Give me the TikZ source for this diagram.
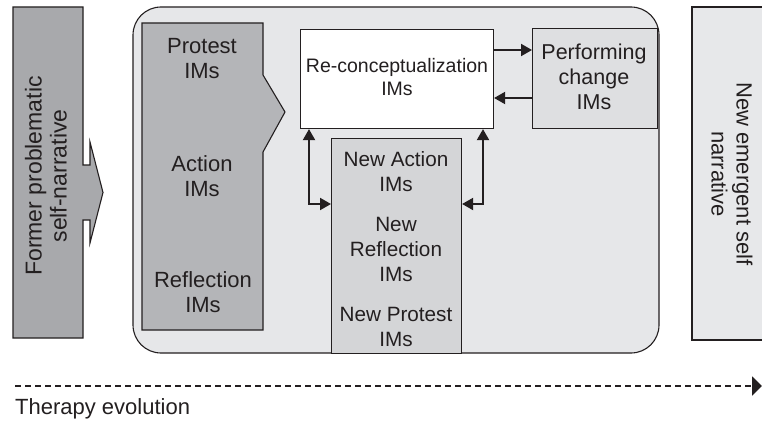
\documentclass[tikz,border=0pt]{standalone}
\usepackage{fontspec}
\setmainfont{Liberation Sans}
\usetikzlibrary{arrows.meta}

\definecolor{inkline}{RGB}{35,31,32}
\definecolor{formerfill}{RGB}{168,169,172}
\definecolor{panelfill}{RGB}{230,231,233}
\definecolor{imsfill}{RGB}{180,181,184}
\definecolor{newfill}{RGB}{212,213,215}
\definecolor{perffill}{RGB}{222,223,225}
\definecolor{emergentfill}{RGB}{231,232,234}

\tikzset{
  outline/.style={draw=inkline, line width=1.1pt},
  lbl/.style={align=center, inner sep=0pt, text=inkline},
  boxnode/.style={outline, rectangle, inner sep=0pt, anchor=north west},
  link/.style={draw=inkline, line width=2pt, -{Triangle[length=11pt,width=12pt]}},
  twoway/.style={draw=inkline, line width=2pt,
    {Triangle[length=11pt,width=12pt]}-{Triangle[length=11pt,width=12pt]}},
}

\begin{document}
\begin{tikzpicture}[x=1pt, y=-1pt]
  \clip (0,0) rectangle (762,425);
  \fill[white] (0,0) rectangle (762,425);

  % former self-narrative with its arrow
  \path[outline, fill=formerfill]
    (13,7) -- (83,7) -- (83,165) -- (90,165) -- (90,142) -- (103,192.5)
    -- (90,243) -- (90,220) -- (83,220) -- (83,338) -- (13,338) -- cycle;
  \node[lbl, rotate=90, font=\fontsize{23}{25}\selectfont] (former) at (46,176)
    {Former problematic\\self-narrative};

  % central panel
  \path[outline, fill=panelfill, rounded corners=28pt] (133,7) rectangle (659,353);

  % initial innovative moments
  \path[outline, fill=imsfill]
    (142,23) -- (263,23) -- (263,75) -- (285,112) -- (263,152)
    -- (263,330) -- (142,330) -- cycle;
  \node[lbl, font=\fontsize{22}{25}\selectfont] (protest) at (202,59) {Protest\\IMs};
  \node[lbl, font=\fontsize{22}{25}\selectfont] (action) at (202,176) {Action\\IMs};
  \node[lbl, font=\fontsize{22}{25}\selectfont] (reflection) at (203,292.5) {Reflection\\IMs};

  % re-conceptualization and performing change
  \node[boxnode, fill=white, minimum width=193pt, minimum height=99pt]
    (reconc) at (300,29) {};
  \node[lbl, font=\fontsize{19.5}{23}\selectfont] (reconctext) at (397,77.5)
    {Re-conceptualization\\IMs};

  \node[boxnode, fill=perffill, minimum width=125pt, minimum height=100pt]
    (perf) at (532,28) {};
  \node[lbl, font=\fontsize{21.5}{25}\selectfont] (perftext) at (594,76.5)
    {Performing\\change\\IMs};

  % new innovative moments
  \node[boxnode, fill=newfill, minimum width=130pt, minimum height=215pt]
    (newims) at (331,138) {};
  \node[lbl, font=\fontsize{20.7}{25}\selectfont] (newaction) at (396,172) {New Action\\IMs};
  \node[lbl, font=\fontsize{20.7}{25}\selectfont] (newreflection) at (396,249) {New\\Reflection\\IMs};
  \node[lbl, font=\fontsize{20.7}{25}\selectfont] (newprotest) at (396,327) {New Protest\\IMs};

  % connectors
  \draw[link] (reconc.east |- 0,50) -- (perf.west |- 0,50);
  \draw[link] (perf.west |- 0,98) -- (reconc.east |- 0,98);
  \draw[twoway] (reconc.south -| 309,0) |- (newims.west |- 0,204);
  \draw[twoway] (reconc.south -| 483,0) |- (newims.east |- 0,204);

  % new emergent self-narrative
  \path[outline, fill=emergentfill] (692,7) rectangle (775,340);
  \node[lbl, rotate=-90, font=\fontsize{22}{25}\selectfont] (emergent) at (732,174)
    {New emergent self\\narrative};

  % therapy timeline
  \coordinate (tstart) at (15,386);
  \coordinate (tend) at (762,386);
  \draw[draw=inkline, line width=2pt, dash pattern=on 6pt off 4pt,
    -{Triangle[length=10pt,width=19pt]}] (tstart) -- (tend);
  \node[anchor=west, inner sep=0pt, text=inkline,
    font=\fontsize{22}{25}\selectfont] (evolution) at (15,409) {Therapy evolution};
\end{tikzpicture}
\end{document}
